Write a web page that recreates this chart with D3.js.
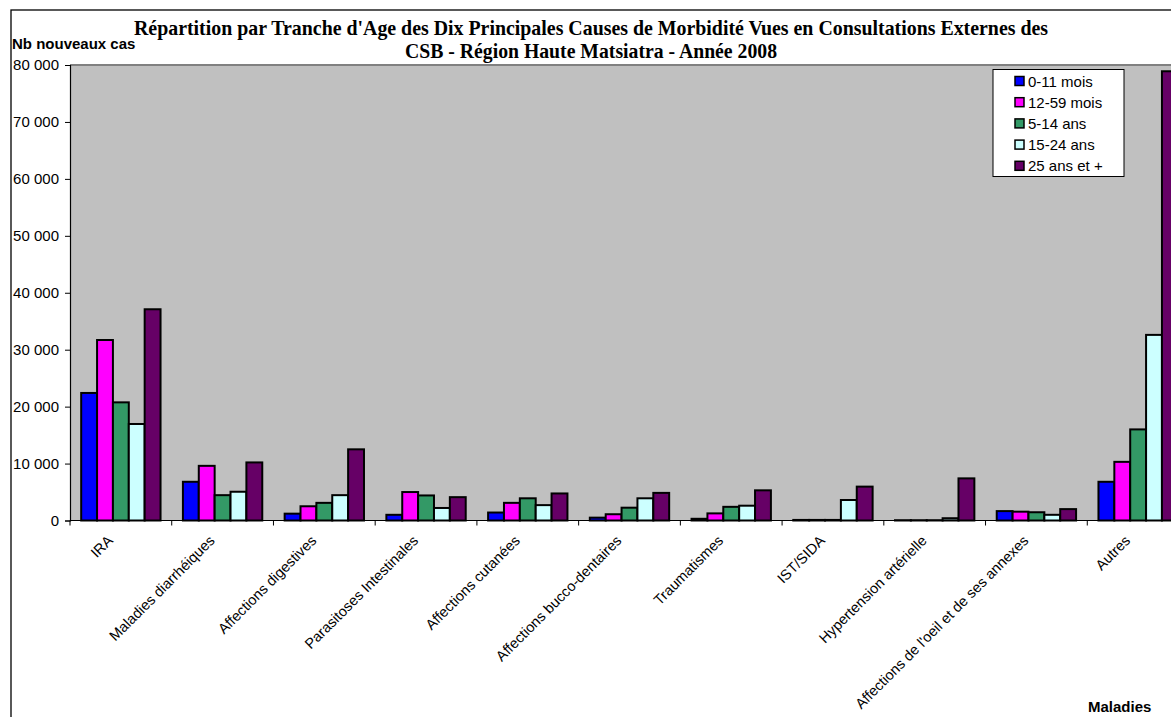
<!DOCTYPE html>
<html><head><meta charset="utf-8">
<script src="https://cdn.jsdelivr.net/npm/d3@7"></script>
<style>body{margin:0;background:#fff}svg{display:block}</style>
</head><body>
<svg id="c" width="1171" height="717"></svg>
<script>
const categories = ["IRA","Maladies diarrhéiques","Affections digestives","Parasitoses Intestinales","Affections cutanées","Affections bucco-dentaires","Traumatismes","IST/SIDA","Hypertension artérielle","Affections de l'oeil et de ses annexes","Autres"];
const seriesNames = ["0-11 mois","12-59 mois","5-14 ans","15-24 ans","25 ans et +"];
const s0_11 = [22400,6800,1200,1000,1400,500,300,100,50,1650,6800];
const s12_59 = [31700,9600,2500,5000,3100,1100,1250,100,50,1550,10300];
const s5_14 = [20750,4450,3100,4400,3900,2250,2400,100,50,1450,16000];
const s15_24 = [16950,5050,4450,2200,2700,3900,2600,3600,400,1000,32600];
const s25 = [37100,10200,12500,4100,4750,4850,5300,5950,7400,2000,78900];
const colors = ["#0000FF","#FF00FF","#339966","#CCFFFF","#660066"];
const yTicks = [0,10000,20000,30000,40000,50000,60000,70000,80000];
const allSeries = [s0_11,s12_59,s5_14,s15_24,s25];

const SANS = "Arial, 'Liberation Sans', sans-serif";
const SERIF = "'Liberation Serif','Times New Roman',serif";
const svg = d3.select("#c");
const L = 70, T = 65, B = 520.5, R = 1189;
// outer frame
svg.append("rect").attr("x",11).attr("y",10).attr("width",1200).attr("height",760)
  .attr("fill","#fff").attr("stroke","#000").attr("stroke-width",1.3);
// plot area
svg.append("rect").attr("x",L).attr("y",T).attr("width",R-L).attr("height",B-T)
  .attr("fill","#C0C0C0");
svg.append("line").attr("x1",L).attr("x2",R).attr("y1",T).attr("y2",T)
  .attr("stroke","#808080").attr("stroke-width",2);

const y = d3.scaleLinear().domain([0,80000]).range([B,T]);
const x0 = d3.scaleBand().domain(categories).range([L,R]).paddingInner(0.22).paddingOuter(0.11);
const x1 = d3.scaleBand().domain(seriesNames).range([0,x0.bandwidth()]);

const fmt = v => d3.format(",")(v).replace(/,/g," ");
const yAxis = d3.axisLeft(y).tickValues(yTicks).tickFormat(fmt).tickSize(5).tickPadding(6);
const gy = svg.append("g").attr("transform",`translate(${L},0)`).call(yAxis);
gy.select(".domain").attr("stroke","#000").attr("stroke-width",1.2);
gy.selectAll("line").attr("stroke","#000");
gy.selectAll("text").attr("font-family",SANS).attr("font-size",15).attr("fill","#000");

// bars
const g = svg.append("g");
categories.forEach((c,ci)=>{
  seriesNames.forEach((s,si)=>{
    const v = allSeries[si][ci];
    g.append("rect").attr("x",x0(c)+x1(s)).attr("y",y(v))
      .attr("width",x1.bandwidth()).attr("height",B-y(v))
      .attr("fill",colors[si]).attr("stroke","#000").attr("stroke-width",2);
  });
});

// x axis
svg.append("line").attr("x1",L).attr("x2",R).attr("y1",B).attr("y2",B).attr("stroke","#000").attr("stroke-width",1.2);
const step = x0.step();
d3.range(categories.length+1).forEach(i=>{
  svg.append("line").attr("x1",L+i*step).attr("x2",L+i*step).attr("y1",B).attr("y2",B+5).attr("stroke","#000");
});
categories.forEach(c=>{
  const cx = x0(c)+x0.bandwidth()/2;
  svg.append("text").attr("transform",`translate(${cx-7},${B+21}) rotate(-45)`)
    .attr("text-anchor","end").attr("font-family",SANS)
    .attr("font-size",14.5).attr("fill","#000").text(c);
});

// title
svg.append("text").attr("text-anchor","middle").attr("font-family",SERIF).attr("font-weight","bold")
  .attr("font-size",21).attr("fill","#000")
  .append("tspan").attr("x",591).attr("y",35).attr("textLength",914).attr("lengthAdjust","spacingAndGlyphs")
  .text("Répartition par Tranche d'Age des Dix Principales Causes de Morbidité Vues en Consultations Externes des");
svg.append("text").attr("text-anchor","middle").attr("font-family",SERIF).attr("font-weight","bold")
  .attr("font-size",21).attr("fill","#000")
  .append("tspan").attr("x",591).attr("y",58).attr("textLength",372).attr("lengthAdjust","spacingAndGlyphs")
  .text("CSB - Région Haute Matsiatra - Année 2008");

svg.append("text").attr("x",12).attr("y",49).attr("font-family",SANS)
  .attr("font-weight","bold").attr("font-size",15).text("Nb nouveaux cas");
svg.append("text").attr("x",1088).attr("y",712).attr("font-family",SANS)
  .attr("font-weight","bold").attr("font-size",15).text("Maladies");

// legend
const lg = svg.append("g");
lg.append("rect").attr("x",993).attr("y",69.5).attr("width",131).attr("height",107)
  .attr("fill","#fff").attr("stroke","#000").attr("stroke-width",1);
seriesNames.forEach((s,i)=>{
  const cy = 81 + i*21.2;
  lg.append("rect").attr("x",1015).attr("y",cy-4.5).attr("width",9).attr("height",9)
    .attr("fill",colors[i]).attr("stroke","#000").attr("stroke-width",1.5);
  lg.append("text").attr("x",1028).attr("y",cy+5.5).attr("font-family",SANS)
    .attr("font-size",15).text(s);
});
</script>
</body></html>
